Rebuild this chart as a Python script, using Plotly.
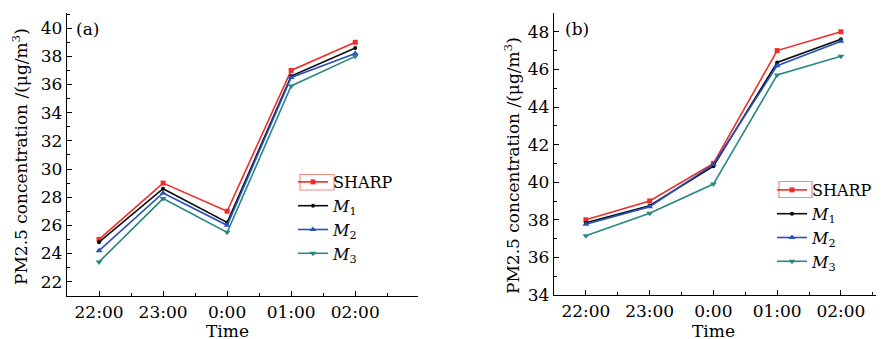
import plotly.graph_objects as go

times = ["22:00", "23:00", "0:00", "01:00", "02:00"]

a_sharp = [25.0, 29.0, 27.0, 37.0, 39.0]
a_m1 = [24.8, 28.6, 26.2, 36.6, 38.6]
a_m2 = [24.2, 28.3, 26.0, 36.5, 38.2]
a_m3 = [23.4, 27.9, 25.5, 35.9, 38.0]

b_sharp = [38.0, 39.0, 41.0, 47.0, 48.0]
b_m1 = [37.84, 38.75, 40.85, 46.37, 47.6]
b_m2 = [37.76, 38.7, 40.95, 46.2, 47.5]
b_m3 = [37.15, 38.35, 39.9, 45.7, 46.7]

a_yticks = [22, 24, 26, 28, 30, 32, 34, 36, 38, 40]
b_yticks = [34, 36, 38, 40, 42, 44, 46, 48]

FONT = "DejaVu Serif"
RED = "rgb(238,45,40)"
BLACK = "rgb(10,10,10)"
BLUE = "rgb(40,80,190)"
TEAL = "rgb(40,135,130)"

names = ["SHARP", "<i>M</i><sub>1</sub>", "<i>M</i><sub>2</sub>", "<i>M</i><sub>3</sub>"]
colors = [RED, BLACK, BLUE, TEAL]
symbols = ["square", "circle", "triangle-up", "triangle-down"]
sizes = [5, 4, 6, 6]

xi = list(range(len(times)))

fig = go.Figure()
for ser, xa, ya, leg in [([a_sharp, a_m1, a_m2, a_m3], "x", "y", "legend"),
                         ([b_sharp, b_m1, b_m2, b_m3], "x2", "y2", "legend2")]:
    for vals, nm, c, s, sz in zip(ser, names, colors, symbols, sizes):
        fig.add_trace(go.Scatter(
            x=xi, y=vals, name=nm, mode="lines+markers",
            line=dict(color=c, width=1.6),
            marker=dict(color=c, symbol=s, size=sz),
            xaxis=xa, yaxis=ya, legend=leg,
        ))

W, H = 884, 339
OFF = 8  # page body margin
def px(x):
    return (x - OFF) / W
def py(y):
    return 1 - (y - OFF) / H

axis_common = dict(
    showline=True, linecolor="black", linewidth=1.3, mirror=False,
    ticks="inside", ticklen=5, tickwidth=1.2, tickcolor="black",
    showgrid=False, zeroline=False, automargin=False,
    tickfont=dict(family=FONT, size=17, color="black"),
)

fig.update_layout(
    width=W, height=H,
    margin=dict(l=0, r=0, t=0, b=0, autoexpand=False),
    paper_bgcolor="white", plot_bgcolor="white",
    font=dict(family=FONT, color="black"),
    xaxis=dict(domain=[px(67), px(418)], range=[-0.5, 4.98], anchor="y",
               tickmode="array", tickvals=xi, ticktext=times,
               minor=dict(tickmode="array", tickvals=[0.5, 1.5, 2.5, 3.5, 4.5],
                          ticks="inside", ticklen=3, tickcolor="black"),
               **axis_common),
    yaxis=dict(domain=[py(296), py(13)], range=[20.98, 41.08], anchor="x",
               tickmode="array", tickvals=a_yticks,
               minor=dict(dtick=1, ticks="inside", ticklen=3, tickcolor="black"),
               **axis_common),
    xaxis2=dict(domain=[px(554), px(883)], range=[-0.5, 4.66], anchor="y2",
                tickmode="array", tickvals=xi, ticktext=times,
                minor=dict(tickmode="array", tickvals=[0.5, 1.5, 2.5, 3.5, 4.5],
                           ticks="inside", ticklen=3, tickcolor="black"),
                **axis_common),
    yaxis2=dict(domain=[py(295), py(13)], range=[34, 49.0], anchor="x2",
                tickmode="array", tickvals=b_yticks,
                minor=dict(dtick=1, ticks="inside", ticklen=3, tickcolor="black"),
                **axis_common),
    legend=dict(x=px(293), y=py(165), xanchor="left", yanchor="top",
                bgcolor="rgba(0,0,0,0)", font=dict(family=FONT, size=16, color="black"),
                tracegroupgap=0, itemwidth=30),
    legend2=dict(x=px(772), y=py(173), xanchor="left", yanchor="top",
                 bgcolor="rgba(0,0,0,0)", font=dict(family=FONT, size=16, color="black"),
                 tracegroupgap=0, itemwidth=30),
    showlegend=True,
)

ann_font = dict(family=FONT, size=17, color="black")
fig.add_annotation(text="PM2.5 concentration /(μg/m<sup>3</sup>)", textangle=-90,
                   xref="paper", yref="paper", x=px(20), y=py(157),
                   xanchor="center", yanchor="middle", showarrow=False, font=ann_font)
fig.add_annotation(text="PM2.5 concentration /(μg/m<sup>3</sup>)", textangle=-90,
                   xref="paper", yref="paper", x=px(512), y=py(166),
                   xanchor="center", yanchor="middle", showarrow=False, font=ann_font)
fig.add_annotation(text="Time", xref="x", yref="paper", x=2, y=py(331),
                   xanchor="center", yanchor="middle", showarrow=False, font=ann_font)
fig.add_annotation(text="Time", xref="x2", yref="paper", x=2, y=py(331),
                   xanchor="center", yanchor="middle", showarrow=False, font=ann_font)
fig.add_annotation(text="(a)", xref="paper", yref="paper", x=px(74), y=py(29),
                   xanchor="left", yanchor="middle", showarrow=False, font=ann_font)
fig.add_annotation(text="(b)", xref="paper", yref="paper", x=px(563), y=py(29),
                   xanchor="left", yanchor="middle", showarrow=False, font=ann_font)

# highlight boxes around the SHARP legend symbols
fig.add_shape(type="rect", xref="paper", yref="paper",
              x0=px(300), x1=px(334), y0=py(190), y1=py(174.5),
              line=dict(color="rgb(245,140,130)", width=1.2), fillcolor="rgba(0,0,0,0)")
fig.add_shape(type="rect", xref="paper", yref="paper",
              x0=px(779), x1=px(812), y0=py(197.5), y1=py(181.5),
              line=dict(color="rgb(245,140,130)", width=1.2), fillcolor="rgba(0,0,0,0)")

fig.write_html("out.html")
